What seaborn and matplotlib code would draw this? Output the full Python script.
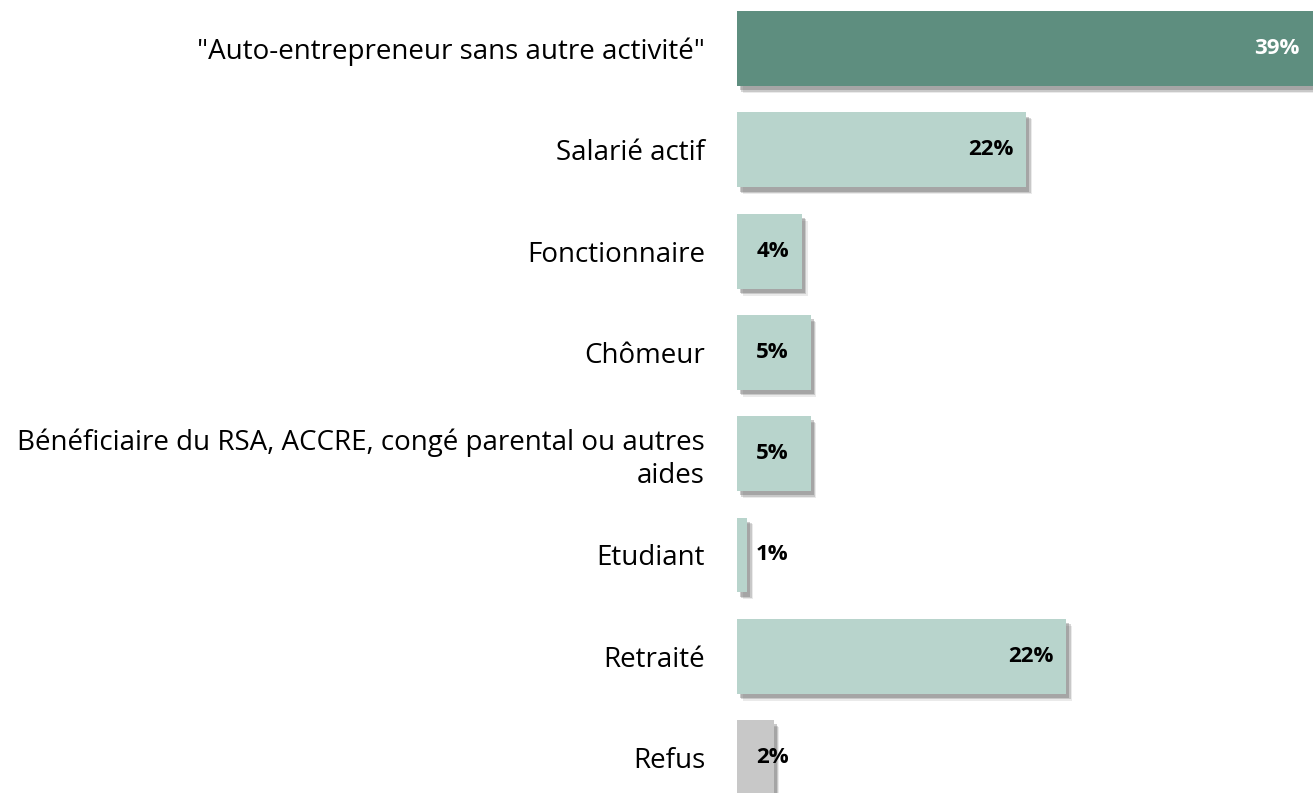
import matplotlib
matplotlib.use("Agg")
import matplotlib.pyplot as plt
import matplotlib.patheffects as pe
import seaborn as sns
import pandas as pd

# categories and values (bar lengths, labels as printed)
categories = ['"Auto-entrepreneur sans autre activité"', "Salarié actif", "Fonctionnaire",
              "Chômeur", "Bénéficiaire du RSA, ACCRE, congé parental ou autres\naides",
              "Etudiant", "Retraité", "Refus"]
values = [39.0, 19.6, 4.4, 5.0, 5.0, 0.7, 22.3, 2.5]
value_labels = ["39%", "22%", "4%", "5%", "5%", "1%", "22%", "2%"]
bar_colors = ["#5e8e7f", "#b8d4cc", "#b8d4cc", "#b8d4cc", "#b8d4cc", "#b8d4cc", "#b8d4cc", "#c8c8c8"]

df = pd.DataFrame({"categorie": categories, "valeur": values})

sns.set_style("white")
plt.rcParams["font.family"] = ["Open Sans", "DejaVu Sans"]

fig = plt.figure(figsize=(13.13, 7.93), dpi=100)
ax = fig.add_axes([737 / 1313, 0, 1 - 737 / 1313, 1])

sns.barplot(data=df, y="categorie", x="valeur", hue="categorie", palette=bar_colors,
            legend=False, width=0.74, saturation=1, linewidth=0, ax=ax)

# ombre portee (floue) sous les barres
for patch in ax.patches:
    patch.set_path_effects([
        pe.SimplePatchShadow(offset=(4, -5), shadow_rgbFace="#777777", alpha=0.15),
        pe.SimplePatchShadow(offset=(3, -4), shadow_rgbFace="#666666", alpha=0.25),
        pe.SimplePatchShadow(offset=(2, -3), shadow_rgbFace="#555555", alpha=0.3),
        pe.Normal()])

ax.set_xlim(0, 39.0)
ax.set_ylim(7.35, -0.48)

for i, (v, lab) in enumerate(zip(values, value_labels)):
    color = "white" if i == 0 else "black"
    if v > 6:
        ax.text(v - 0.9, i, lab, ha="right", va="center", fontsize=16, fontweight="bold", color=color)
    else:
        ax.text(2.4, i, lab, ha="center", va="center", fontsize=16, fontweight="bold", color=color)

ax.set_xlabel("")
ax.set_ylabel("")
ax.set_xticks([])
ax.tick_params(axis="y", length=0, pad=23, labelsize=20, labelcolor="black")
for lbl in ax.get_yticklabels():
    lbl.set_horizontalalignment("right")
    lbl.set_multialignment("right")
sns.despine(ax=ax, left=True, bottom=True)

fig.savefig("out.png", dpi=100)
plt.close()
